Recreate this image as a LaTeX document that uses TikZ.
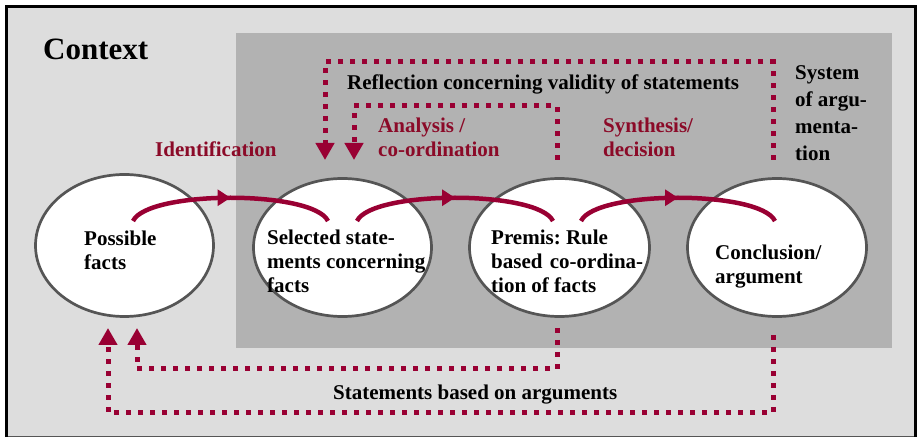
\documentclass[tikz,border=0pt]{standalone}
\usepackage{fontspec}
\setmainfont{Liberation Serif}
\frenchspacing
\usetikzlibrary{arrows.meta,shapes.geometric,decorations.markings}
\definecolor{ctxgray}{RGB}{221,221,221}
\definecolor{sysgray}{RGB}{178,178,178}
\definecolor{wine}{RGB}{153,0,51}
\definecolor{winetext}{RGB}{139,10,40}
\definecolor{rim}{RGB}{85,85,85}
\begin{document}
\begin{tikzpicture}[x=1pt,y=-1pt,
  stage/.style={ellipse,draw=rim,line width=2.7pt,fill=white,inner sep=0pt},
  txt/.style={font=\fontsize{21}{24}\selectfont\bfseries,anchor=base west,align=left,inner sep=0pt},
  redtxt/.style={txt,text=winetext},
  flow/.style={draw=wine,line width=4.5pt,postaction={decorate},
    decoration={markings,mark=at position 0.5 with {\arrow[wine]{Triangle[length=13pt,width=16pt]}}}},
  dots/.style={draw=wine,line width=5pt,dash pattern=on 5pt off 7pt},
  tipdown/.style={-{Triangle[length=17pt,width=18pt]}}
]
\useasboundingbox (0,0) rectangle (919,438);

% context frame
\fill[ctxgray] (6,6) rectangle (916,437);
\draw[rim,line width=1.5pt] (6,436.5) -- (916,436.5);
\draw[black,line width=3pt] (6.5,437) -- (6.5,6.5) -- (915.5,6.5) -- (915.5,437);

% system of argumentation area
\fill[sysgray] (236,33) rectangle (892,348);

% stages
\node[stage,minimum width=178pt,minimum height=142pt] (e1) at (124.5,245.5) {};
\node[stage,minimum width=178pt,minimum height=138pt] (e2) at (342.5,247.5) {};
\node[stage,minimum width=180pt,minimum height=138pt] (e3) at (559.5,247.5) {};
\node[stage,minimum width=179pt,minimum height=138pt] (e4) at (777,247.5) {};

% texts (multi-line nodes are anchored at the baseline of their last line)
\node[txt,font=\fontsize{31}{36}\selectfont\bfseries] (ctx) at (43,60) {Context};
\node[txt] (refl) at (347,90) {Reflection concerning validity of statements};
\node[txt,font=\fontsize{21}{27}\selectfont\bfseries] (sys) at (795,161) {System\\of argu-\\menta-\\tion};
\node[redtxt] (ident) at (155,157) {Identification};
\node[redtxt] (anal) at (378,157) {Analysis /\\co-ordination};
\node[redtxt] (synth) at (603,157) {Synthesis/\\decision};
\node[txt] (t1) at (84,270) {Possible\\facts};
\node[txt] (t2) at (267,293) {Selected state-\\ments concerning\\facts};
\node[txt] (t3) at (491,293) {Premis: Rule\\based\hspace{0.35em}co-ordina-\\tion of facts};
\node[txt] (t4) at (715,284) {Conclusion/\\argument};
\node[txt] (stm) at (333,400) {Statements based on arguments};

% flow between stages
\coordinate (a1s) at (133,221);  \coordinate (a1e) at (328,221);
\coordinate (a2s) at (357,221);  \coordinate (a2e) at (553,221);
\coordinate (a3s) at (581,221);  \coordinate (a3e) at (775,221);
\draw[flow] (a1s) .. controls +(15,-31) and +(-15,-31) .. (a1e);
\draw[flow] (a2s) .. controls +(15,-31) and +(-15,-31) .. (a2e);
\draw[flow] (a3s) .. controls +(15,-31) and +(-15,-31) .. (a3e);

% reflection loops
\coordinate (rtop) at (0,62);
\coordinate (itop) at (0,106);
\coordinate (r1) at (773,160);  \coordinate (r2) at (325,160);
\coordinate (i1) at (557,160);  \coordinate (i2) at (354,160);
\draw[dots,tipdown] (r1) -- (r1 |- rtop) -| (r2);
\draw[dots,tipdown] (i1) -- (i1 |- itop) -| (i2);

% feedback loops
\coordinate (blow) at (0,413);
\coordinate (bmid) at (0,369);
\coordinate (b1) at (557,328);  \coordinate (b2) at (137,328);
\coordinate (c1) at (773,335);  \coordinate (c2) at (108,328);
\draw[dots,tipdown] (b1) -- (b1 |- bmid) -| (b2);
\draw[dots,tipdown] (c1) -- (c1 |- blow) -| (c2);
\end{tikzpicture}
\end{document}
